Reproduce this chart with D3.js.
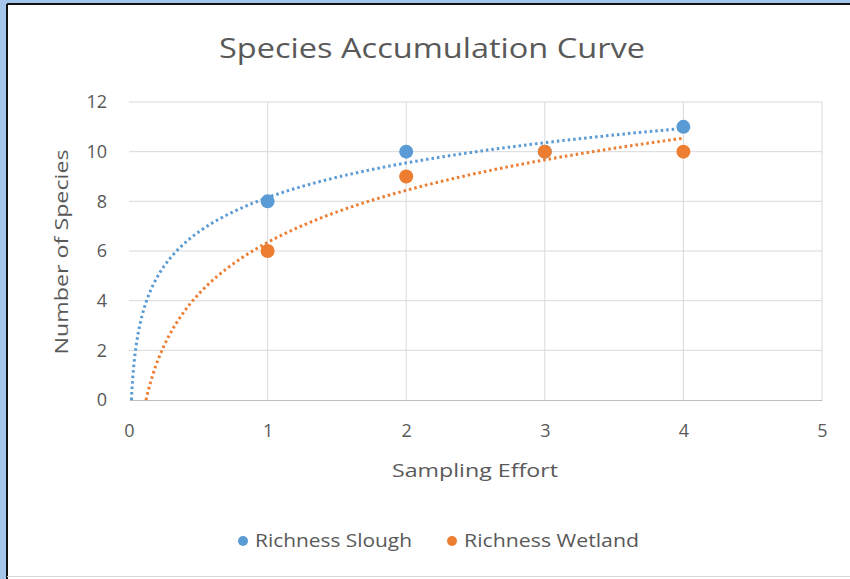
<!DOCTYPE html>
<html>
<head>
<meta charset="utf-8">
<script src="https://cdn.jsdelivr.net/npm/d3@7"></script>
<style>
  body { margin: 0; background: #a4c6ea; }
  text { font-family: "Open Sans", sans-serif; fill: #595959; }
</style>
</head>
<body>
<script>
// sampling effort and species counts
var effort = [1, 2, 3, 4];
var slough = [8, 10, 10, 11];
var wetland = [6, 9, 10, 10];
var seriesNames = ["Richness Slough", "Richness Wetland"];
var colors = ["#5b9bd5", "#ed7d31"];
var xTicks = [0, 1, 2, 3, 4, 5];
var yTicks = [0, 2, 4, 6, 8, 10, 12];

var W = 850, H = 579;

var svg = d3.select("body")
    .append("svg")
    .attr("width", W)
    .attr("height", H);

// frame
svg.append("rect").attr("x", 0).attr("y", 0).attr("width", W).attr("height", H).style("fill", "#a4c6ea");
svg.append("rect").attr("x", 7).attr("y", 4).attr("width", W - 7).attr("height", H - 4).style("fill", "#fff");
svg.append("line").attr("x1", 7).attr("y1", 4).attr("x2", W).attr("y2", 4).style("stroke", "#111").style("stroke-width", 2);
svg.append("line").attr("x1", 7).attr("y1", 4).attr("x2", 7).attr("y2", H).style("stroke", "#111").style("stroke-width", 2);
svg.append("line").attr("x1", 7).attr("y1", H - 2.5).attr("x2", W).attr("y2", H - 2.5).style("stroke", "#d8d8d8").style("stroke-width", 1);

var x = d3.scaleLinear().domain([0, 5]).range([129, 822]);
var y = d3.scaleLinear().domain([0, 12]).range([400, 102]);

// gridlines
svg.append("g")
  .selectAll("line.h")
  .data(yTicks.slice(1))
  .enter()
  .append("line")
    .attr("x1", x(0)).attr("x2", x(5))
    .attr("y1", function(d) {return y(d);})
    .attr("y2", function(d) {return y(d);})
    .style("stroke", "#d9d9d9");

svg.append("g")
  .selectAll("line.v")
  .data(xTicks.slice(1))
  .enter()
  .append("line")
    .attr("y1", y(0)).attr("y2", y(12))
    .attr("x1", function(d) {return x(d);})
    .attr("x2", function(d) {return x(d);})
    .style("stroke", "#d9d9d9");

var xAxis = svg.append("g")
  .attr("transform", "translate(0," + y(0) + ")")
  .call(d3.axisBottom(x).tickValues(xTicks).tickFormat(d3.format("d")).tickSize(0).tickPadding(24));
xAxis.select(".domain").style("stroke", "#bfbfbf");
xAxis.selectAll("text").style("font-size", "18px").style("fill", "#595959");

var yAxis = svg.append("g")
  .attr("transform", "translate(" + x(0) + ",0)")
  .call(d3.axisLeft(y).tickValues(yTicks).tickSize(0).tickPadding(22));
yAxis.select(".domain").remove();
yAxis.selectAll("text").style("font-size", "18px").style("fill", "#595959");

// log trendlines, least squares fit on ln(x)
function logFit(xs, ys) {
  var lx = xs.map(Math.log);
  var mx = d3.mean(lx), my = d3.mean(ys);
  var sxy = d3.sum(lx, function(v, i) {return (v - mx) * (ys[i] - my);});
  var sxx = d3.sum(lx, function(v) {return (v - mx) * (v - mx);});
  var b = sxy / sxx;
  return {a: my - b * mx, b: b};
}

var line = d3.line()
  .x(function(d) {return x(d[0]);})
  .y(function(d) {return y(d[1]);});

[slough, wetland].forEach(function(ys, k) {
  var f = logFit(effort, ys);
  var x0 = Math.exp(-f.a / f.b);
  var pts = [];
  for (var i = 0; i <= 300; i++) {
    var t = x0 * Math.pow(4 / x0, i / 300);
    pts.push([t, f.a + f.b * Math.log(t)]);
  }
  svg.append("path")
    .datum(pts)
    .attr("d", line)
    .style("fill", "none")
    .style("stroke", colors[k])
    .style("stroke-width", 3)
    .style("stroke-dasharray", "2.5,3");
});

[slough, wetland].forEach(function(ys, k) {
  svg.append("g")
    .selectAll("circle")
    .data(effort)
    .enter()
    .append("circle")
      .attr("cx", function(d) {return x(d);})
      .attr("cy", function(d, i) {return y(ys[i]);})
      .attr("r", 7)
      .style("fill", colors[k]);
});

// titles
svg.append("text")
  .attr("x", 432).attr("y", 58)
  .style("text-anchor", "middle")
  .style("font-size", "28px")
  .attr("textLength", 426)
  .attr("lengthAdjust", "spacingAndGlyphs")
  .text("Species Accumulation Curve");

svg.append("text")
  .attr("x", 475).attr("y", 477)
  .style("text-anchor", "middle")
  .style("font-size", "19px")
  .attr("textLength", 166)
  .attr("lengthAdjust", "spacingAndGlyphs")
  .text("Sampling Effort");

svg.append("text")
  .attr("transform", "translate(68,252) rotate(-90)")
  .style("text-anchor", "middle")
  .style("font-size", "19px")
  .attr("textLength", 205)
  .attr("lengthAdjust", "spacingAndGlyphs")
  .text("Number  of Species");

// legend
var legX = [243, 452];
var legW = [157, 175];
seriesNames.forEach(function(n, k) {
  svg.append("circle").attr("cx", legX[k]).attr("cy", 541).attr("r", 5).style("fill", colors[k]);
  svg.append("text")
    .attr("x", legX[k] + 12).attr("y", 547)
    .style("font-size", "19px")
    .attr("textLength", legW[k])
    .attr("lengthAdjust", "spacingAndGlyphs")
    .text(n);
});
</script>
</body>
</html>
